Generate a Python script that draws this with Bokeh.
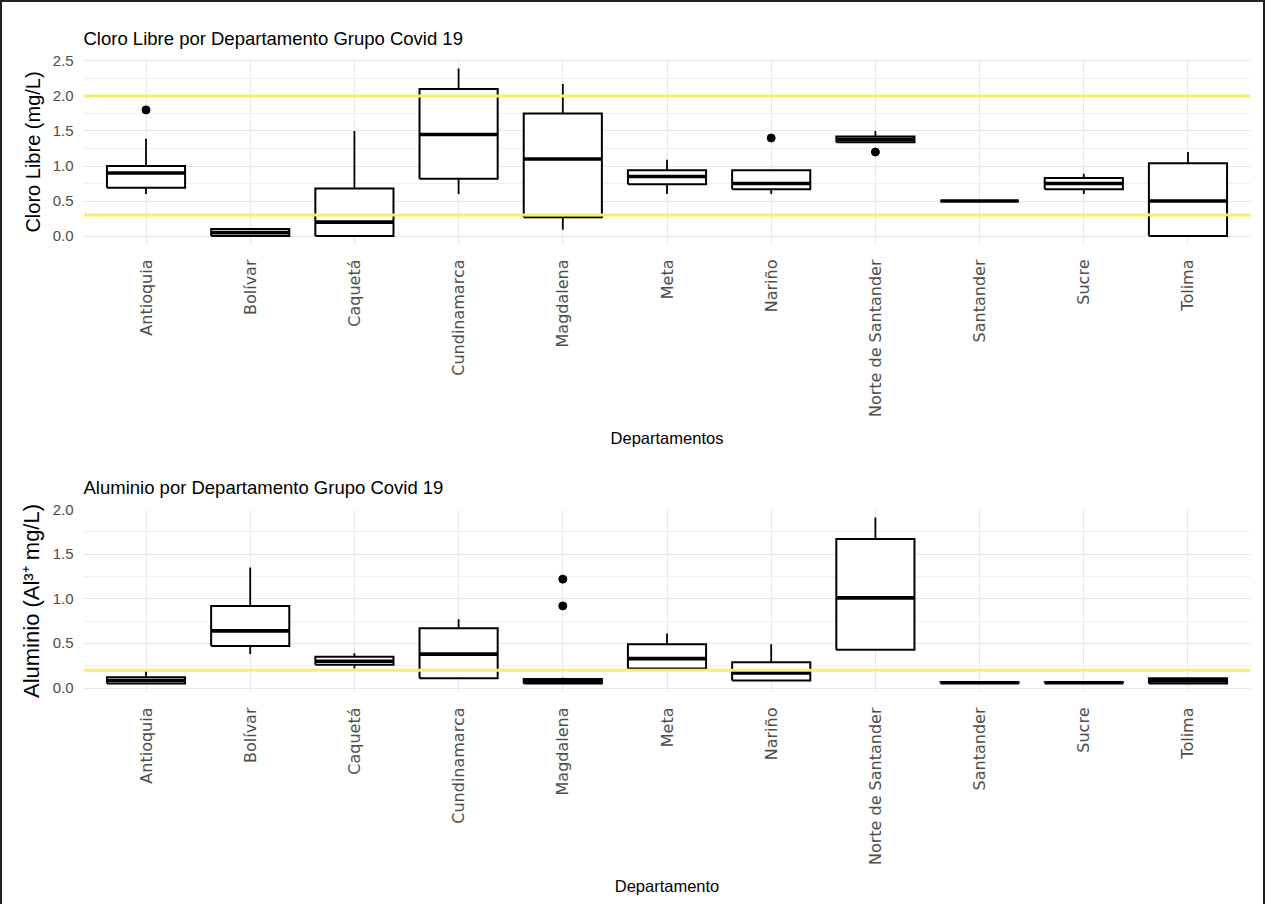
import numpy as np
from bokeh.plotting import figure
from bokeh.layouts import column
from bokeh.models import Range1d, FixedTicker, PrintfTickFormatter, Span
from bokeh.embed import file_html
from bokeh.resources import INLINE

# ---------------- data ----------------
cats = ["Antioquia", "Bolívar", "Caquetá", "Cundinamarca", "Magdalena", "Meta",
        "Nariño", "Norte de Santander", "Santander", "Sucre", "Tolima"]

# Cloro libre (mg/L) box statistics
cl_low  = [0.60, 0.00, 0.00, 0.60, 0.09, 0.60, 0.60, 1.33, 0.50, 0.60, 0.00]
cl_q1   = [0.69, 0.00, 0.00, 0.82, 0.27, 0.74, 0.67, 1.34, 0.50, 0.67, 0.00]
cl_med  = [0.90, 0.05, 0.20, 1.45, 1.10, 0.85, 0.75, 1.38, 0.50, 0.75, 0.50]
cl_q3   = [1.00, 0.10, 0.68, 2.10, 1.75, 0.94, 0.94, 1.42, 0.50, 0.83, 1.04]
cl_high = [1.39, 0.10, 1.50, 2.39, 2.17, 1.09, 0.94, 1.50, 0.50, 0.89, 1.20]
cl_out_cat = ["Antioquia", "Nariño", "Norte de Santander"]
cl_out_val = [1.80, 1.40, 1.20]
cl_limits = [2.0, 0.3]
cl_yticks = [0.0, 0.5, 1.0, 1.5, 2.0, 2.5]
cl_yminor = [0.25, 0.75, 1.25, 1.75, 2.25]

# Aluminio (Al3+ mg/L) box statistics
al_low  = [0.05, 0.38, 0.22, 0.11, 0.05, 0.22, 0.08, 0.43, 0.06, 0.06, 0.05]
al_q1   = [0.05, 0.47, 0.26, 0.11, 0.05, 0.22, 0.085, 0.43, 0.06, 0.06, 0.05]
al_med  = [0.085, 0.64, 0.30, 0.38, 0.07, 0.33, 0.17, 1.01, 0.06, 0.06, 0.08]
al_q3   = [0.12, 0.92, 0.35, 0.67, 0.10, 0.49, 0.29, 1.67, 0.065, 0.065, 0.11]
al_high = [0.19, 1.35, 0.39, 0.77, 0.115, 0.61, 0.49, 1.91, 0.065, 0.065, 0.11]
al_out_cat = ["Magdalena", "Magdalena"]
al_out_val = [1.22, 0.92]
al_limits = [0.2]
al_yticks = [0.0, 0.5, 1.0, 1.5, 2.0]
al_yminor = [0.25, 0.75, 1.25, 1.75]

REG = "'Liberation Sans', Arial, sans-serif"


def panel(title, title_standoff, ylabel, ylabel_size, xlabel, low, q1, med, q3, high,
          out_cat, out_val, limits, yticks, yminor, ystart, yend, height, top, bottom):
    n = len(cats)
    xs = np.arange(1, n + 1)
    p = figure(width=1261, height=height, output_backend="svg", toolbar_location=None,
               x_range=Range1d(0.4, n + 0.6), y_range=Range1d(ystart, yend),
               min_border_left=81, min_border_right=13,
               min_border_top=top, min_border_bottom=bottom)
    p.outline_line_color = None
    p.background_fill_color = "white"
    p.border_fill_color = "white"

    # title
    p.title.text = title
    p.title.text_font = REG
    p.title.text_font_size = "18.5px"
    p.title.text_font_style = "normal"
    p.title.text_color = "black"
    p.title.offset = 0
    p.title.standoff = title_standoff

    # axes
    p.yaxis.ticker = FixedTicker(ticks=yticks, minor_ticks=yminor)
    p.yaxis.formatter = PrintfTickFormatter(format="%.1f")
    p.xaxis.ticker = FixedTicker(ticks=[float(v) for v in xs])
    p.xaxis.major_label_overrides = {float(i): c for i, c in zip(xs, cats)}
    p.xaxis.major_label_orientation = np.pi / 2
    for ax in (p.xaxis, p.yaxis):
        ax.axis_line_color = None
        ax.major_tick_line_color = None
        ax.minor_tick_line_color = None
        ax.major_tick_out = 0
        ax.major_tick_in = 0
        ax.minor_tick_out = 0
        ax.minor_tick_in = 0
        ax.major_label_text_color = "#4d4d4d"
        ax.axis_label_text_color = "black"
        ax.axis_label_text_font_style = "normal"
    p.yaxis.major_label_text_font = REG
    p.yaxis.major_label_text_font_size = "15px"
    p.yaxis.major_label_standoff = 10
    p.yaxis.axis_label = ylabel
    p.yaxis.axis_label_text_font = REG
    p.yaxis.axis_label_text_font_size = ylabel_size
    p.yaxis.axis_label_standoff = 6
    p.xaxis.major_label_text_font = "DejaVu Sans"
    p.xaxis.major_label_text_font_size = "16px"
    p.xaxis.major_label_standoff = 15
    p.xaxis.axis_label = xlabel
    p.xaxis.axis_label_text_font = REG
    p.xaxis.axis_label_text_font_size = "16.5px"
    p.xaxis.axis_label_standoff = 9

    # grid
    p.xgrid.grid_line_color = "#e8e8e8"
    p.xgrid.grid_line_width = 1
    p.ygrid.grid_line_color = "#e8e8e8"
    p.ygrid.grid_line_width = 1
    p.ygrid.minor_grid_line_color = "#efefef"
    p.ygrid.minor_grid_line_width = 1

    # boxes
    hw = 0.375
    p.vbar(x=xs, width=2 * hw, top=q3, bottom=q1, fill_color="white", line_color=None)
    p.segment(x0=xs, y0=q3, x1=xs, y1=high, line_color="black", line_width=1.8)
    p.segment(x0=xs, y0=q1, x1=xs, y1=low, line_color="black", line_width=1.8)
    box_x = [[x - hw, x + hw, x + hw, x - hw, x - hw] for x in xs]
    box_y = [[a, a, b, b, a] for a, b in zip(q1, q3)]
    p.multi_line(xs=box_x, ys=box_y, line_color="black", line_width=2, line_join="miter")
    p.segment(x0=xs - hw, y0=med, x1=xs + hw, y1=med, line_color="black", line_width=3.6)

    ox = [cats.index(c) + 1 for c in out_cat]
    p.scatter(x=ox, y=out_val, size=8, color="black")

    for v in limits:
        p.add_layout(Span(location=v, dimension="width", line_color="#f6ef6c", line_width=3))
    return p


p1 = panel("Cloro Libre por Departamento Grupo Covid 19", 22, "Cloro Libre (mg/L)", "20px",
           "Departamentos",
           cl_low, cl_q1, cl_med, cl_q3, cl_high, cl_out_cat, cl_out_val, cl_limits,
           cl_yticks, cl_yminor, -0.12, 2.52, 452, 57, 210)
p2 = panel("Aluminio por Departamento Grupo Covid 19", 24, "Aluminio (Al³⁺ mg/L)", "22px",
           "Departamento",
           al_low, al_q1, al_med, al_q3, al_high, al_out_cat, al_out_val, al_limits,
           al_yticks, al_yminor, -0.05, 2.0, 450, 55, 212)

layout = column(p1, p2, styles={"border-left": "2px solid #222", "border-top": "2px solid #222",
                                "border-right": "2px solid #222"})

open("out.html", "w").write(file_html(layout, INLINE))
